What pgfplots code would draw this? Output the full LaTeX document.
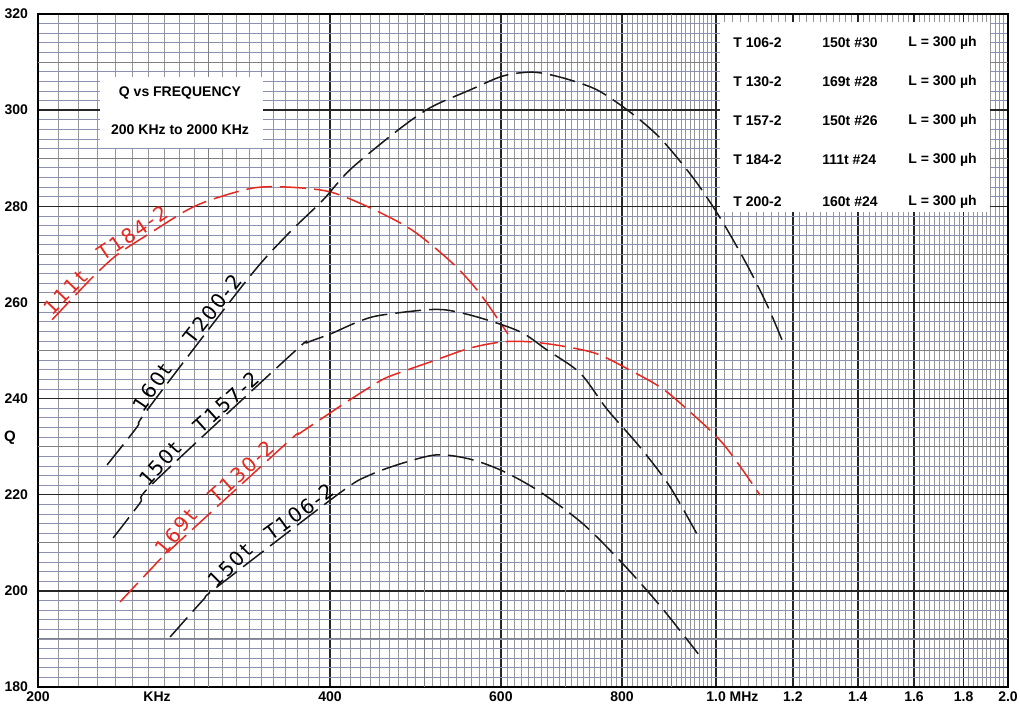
\documentclass[border=0pt]{standalone}
\usepackage{fontspec}
\setmainfont{Liberation Sans}
\newfontfamily\hand[LetterSpace=10]{DejaVu Sans}
\usepackage{pgfplots}
\pgfplotsset{compat=1.18}
\definecolor{cred}{RGB}{232,40,30}
\definecolor{hgrid}{RGB}{120,125,165}
\definecolor{vgrid}{RGB}{105,105,105}
\tikzset{curve/.style={line width=0.75pt, dash pattern=on 13pt off 4pt, smooth},
  hw/.style={anchor=south, inner sep=0.8pt, font=\hand\fontsize{10}{10}\selectfont},
  lg/.style={anchor=west, inner sep=0pt, font=\fontsize{7}{8}\selectfont\bfseries}}
\begin{document}
\begin{tikzpicture}
\begin{axis}[name=ax,
  xmode=log, scale only axis, width=485pt, height=336.5pt,
  xmin=200, xmax=2000, ymin=180, ymax=320, clip=false,
  xtick={200,400,600,800,1000,1200,1400,1600,1800,2000},
  xticklabels={200,400,600,800,{1.0\rlap{ MHz}},1.2,1.4,1.6,1.8,2.0},
  minor xtick={210,220,230,240,250,260,270,280,290,310,320,330,340,350,360,370,380,390,410,420,430,440,450,460,470,480,490,510,520,530,540,550,560,570,580,590,610,620,630,640,650,660,670,680,690,710,720,730,740,750,760,770,780,790,810,820,830,840,850,860,870,880,890,910,920,930,940,950,960,970,980,990,1020,1040,1060,1080,1100,1120,1140,1160,1180,1220,1240,1260,1280,1300,1320,1340,1360,1380,1420,1440,1460,1480,1500,1520,1540,1560,1580,1620,1640,1660,1680,1700,1720,1740,1760,1780,1820,1840,1860,1880,1900,1920,1940,1960,1980},
  ytick={180,200,...,320},
  minor y tick num=9,
  extra x ticks={300,500,700,900},
  extra y ticks={190,210,230,250,270,290,310},
  extra x tick labels={}, extra y tick labels={},
  extra tick style={grid=major, major grid style={black!50, line width=0.5pt}},
  grid=both,
  major grid style={black!85, line width=0.7pt},
  minor x grid style={vgrid!70, line width=0.35pt},
  minor y grid style={hgrid!85, line width=0.35pt},
  major tick length=0pt, minor tick length=0pt,
  axis line style={black, line width=0.9pt},
  tick label style={font=\fontsize{7}{8}\selectfont\bfseries},
  /pgf/number format/assume math mode=true,
  xticklabel style={anchor=base, yshift=-7.5pt},
  yticklabel style={xshift=-1.5pt},
]
% boxes
\fill[white] (rel axis cs:0.0639,0.8009) rectangle (rel axis cs:0.232,0.9064);
\fill[white] (rel axis cs:0.7031,0.7058) rectangle (rel axis cs:0.9814,0.9881);
\node[font=\fontsize{7}{8}\selectfont\bfseries] at (rel axis cs:0.1464,0.8826) {Q vs FREQUENCY};
\node[font=\fontsize{7}{8}\selectfont\bfseries] at (rel axis cs:0.1464,0.8276) {200 KHz to 2000 KHz};
\node[lg] at (rel axis cs:0.7165,0.9569) {T 106-2};
\node[lg] at (rel axis cs:0.8082,0.9569) {150t \#30};
\node[lg] at (rel axis cs:0.8969,0.9569) {L = 300 µh};
\node[lg] at (rel axis cs:0.7165,0.899) {T 130-2};
\node[lg] at (rel axis cs:0.8082,0.899) {169t \#28};
\node[lg] at (rel axis cs:0.8969,0.899) {L = 300 µh};
\node[lg] at (rel axis cs:0.7165,0.841) {T 157-2};
\node[lg] at (rel axis cs:0.8082,0.841) {150t \#26};
\node[lg] at (rel axis cs:0.8969,0.841) {L = 300 µh};
\node[lg] at (rel axis cs:0.7165,0.783) {T 184-2};
\node[lg] at (rel axis cs:0.8082,0.783) {111t \#24};
\node[lg] at (rel axis cs:0.8969,0.783) {L = 300 µh};
\node[lg] at (rel axis cs:0.7165,0.7207) {T 200-2};
\node[lg] at (rel axis cs:0.8082,0.7207) {160t \#24};
\node[lg] at (rel axis cs:0.8969,0.7207) {L = 300 µh};
\node[font=\fontsize{7.5}{8}\selectfont\bfseries] at (rel axis cs:-0.0289,0.37) {Q};
\node[anchor=base, yshift=-7.5pt, font=\fontsize{7}{8}\selectfont\bfseries] at (rel axis cs:0.1227,0) {KHz};

% T184-2
\addplot[curve, cred] coordinates {(206.8,256.4) (226.3,264.7) (241.2,269.9) (260.9,274.4) (284.9,279.2) (303.0,281.5) (333.2,283.8) (361.1,284.0) (400.0,283.0) (442.9,279.4) (487.2,274.9) (535.9,268.0) (571.1,261.8) (610.3,253.4)};
% T200-2
\addplot[curve, black!90] coordinates {(235.6,226.2) (253.0,234.1) (259.1,237.6) (328.5,264.7) (361.1,274.0) (393.4,281.3) (419.4,287.6) (469.0,295.7) (507.2,300.5) (557.7,304.2) (603.1,307.1) (647.6,307.9) (695.4,306.7) (754.1,304.2) (815.3,299.6) (875.6,294.2) (947.2,285.9) (1009.6,277.6) (1076.3,267.8) (1128.6,259.5) (1169.5,252.2)};
% T157-2
\addplot[curve, black!90] coordinates {(239.0,211.0) (254.8,218.3) (262.8,222.4) (366.3,249.5) (378.7,251.6) (400.0,253.4) (424.4,255.7) (447.2,257.2) (498.8,258.4) (528.3,258.4) (571.1,256.8) (628.1,253.9) (669.5,250.1) (724.3,245.3) (771.9,237.8) (834.8,229.9) (896.7,221.6) (963.0,210.6)};
% T130-2
\addplot[curve, cred] coordinates {(243.0,197.7) (262.8,205.0) (273.6,208.5) (361.1,230.8) (372.4,232.8) (400.0,237.0) (411.6,238.7) (439.8,242.4) (459.1,244.5) (507.2,247.6) (557.7,250.5) (603.1,251.8) (643.0,251.8) (695.4,250.9) (754.1,249.3) (815.3,245.9) (875.6,242.4) (924.8,238.5) (1016.8,230.6) (1110.0,219.9)};
% T106-2
\addplot[curve, black!90] coordinates {(273.6,190.4) (295.9,198.1) (305.9,200.8) (409.6,220.4) (439.8,224.1) (475.8,226.6) (515.7,228.3) (557.7,227.4) (603.1,224.9) (658.5,220.6) (729.5,213.9) (801.8,205.6) (875.6,196.9) (958.5,186.9)};

% handwritten labels
\node[hw, text=cred, rotate=46] at (axis cs:216.8,260.7) {111t};
\node[hw, text=cred, rotate=34] at (axis cs:253.6,272.8) {T184-2};
\node[hw, rotate=56] at (axis cs:267.2,241.2) {160t};
\node[hw, rotate=52] at (axis cs:308.0,257.4) {T200-2};
\node[hw, rotate=48] at (axis cs:271.7,225.1) {150t};
\node[hw, rotate=42] at (axis cs:317.7,237.8) {T157-2};
\node[hw, text=cred, rotate=50] at (axis cs:282.2,211.0) {169t};
\node[hw, text=cred, rotate=42] at (axis cs:329.3,223.3) {T130-2};
\node[hw, rotate=45] at (axis cs:320.7,203.9) {150t};
\node[hw, rotate=36] at (axis cs:377.0,214.75) {T106-2};
\end{axis}
\pgfresetboundingbox
\path[use as bounding box] ([xshift=-19pt,yshift=-12pt]ax.south west) rectangle ([xshift=6pt,yshift=7pt]ax.north east);
\end{tikzpicture}
\end{document}
